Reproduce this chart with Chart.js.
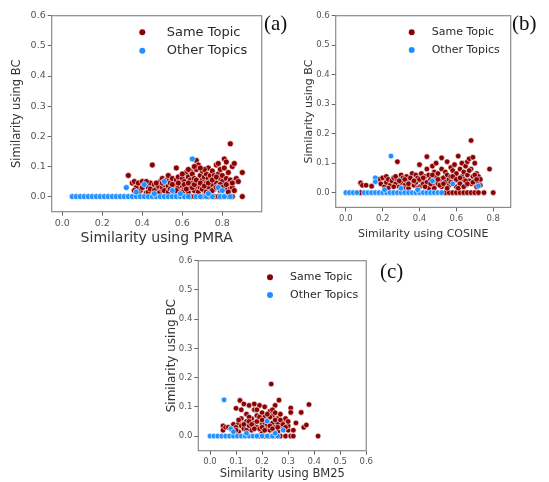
<!DOCTYPE html>
<html>
<head>
<meta charset="utf-8">
<script src="https://cdn.jsdelivr.net/npm/chart.js@4.4.1/dist/chart.umd.min.js"></script>
<style>
  body { margin: 0; background: #fff; width: 549px; height: 482px; position: relative; overflow: hidden; }
  canvas { position: absolute; }
  .tag { position: absolute; font-family: "Liberation Serif", serif; font-size: 21px; color: #111; }
</style>
</head>
<body>
<canvas id="chartA" width="268" height="248" style="left:0;top:0"></canvas>
<canvas id="chartB" width="226" height="245" style="left:290px;top:0"></canvas>
<canvas id="chartC" width="225" height="237" style="left:150px;top:245px"></canvas>
<div class="tag" style="left:264px;top:11px">(a)</div>
<div class="tag" style="left:512px;top:11px">(b)</div>
<div class="tag" style="left:380px;top:259px">(c)</div>
<script>
// series names
const seriesNames = ['Same Topic', 'Other Topics'];

// tick values
const yTicks = [0.0, 0.1, 0.2, 0.3, 0.4, 0.5, 0.6];
const xTicksA = [0.0, 0.2, 0.4, 0.6, 0.8];
const xTicksB = [0.0, 0.2, 0.4, 0.6, 0.8];
const xTicksC = [0.0, 0.1, 0.2, 0.3, 0.4, 0.5, 0.6];

// (a) PMRA vs BC
const aSame = [
  [0.64,0], [0.66,0], [0.70,0], [0.73,0], [0.76,0], [0.78,0], [0.80,0], [0.83,0], [0.85,0], [0.90,0],
  [0.33,0.07], [0.35,0.045], [0.36,0.05], [0.37,0.03], [0.38,0.045], [0.39,0.02], [0.40,0.05], [0.41,0.035],
  [0.42,0.012], [0.43,0.03], [0.44,0.045], [0.45,0.105], [0.45,0.02], [0.46,0.04], [0.47,0.025], [0.48,0.035],
  [0.49,0.05], [0.49,0.015], [0.50,0.06], [0.50,0.03], [0.51,0.04], [0.52,0.02], [0.52,0.055], [0.53,0.07],
  [0.53,0.035], [0.54,0.045], [0.55,0.025], [0.55,0.06], [0.56,0.01], [0.56,0.04], [0.57,0.095], [0.57,0.055],
  [0.58,0.03], [0.58,0.065], [0.59,0.045], [0.59,0.015], [0.60,0.06], [0.60,0.035], [0.61,0.025], [0.61,0.05],
  [0.62,0.08], [0.62,0.04], [0.63,0.065], [0.63,0.015], [0.64,0.085], [0.64,0.03], [0.64,0.055], [0.65,0.045],
  [0.65,0.075], [0.66,0.02], [0.66,0.06], [0.67,0.12], [0.67,0.035], [0.67,0.09], [0.68,0.105], [0.68,0.05],
  [0.68,0.015], [0.69,0.07], [0.69,0.03], [0.70,0.055], [0.70,0.085], [0.70,0.04], [0.71,0.065], [0.71,0.02],
  [0.72,0.045], [0.72,0.075], [0.73,0.095], [0.73,0.03], [0.73,0.06], [0.74,0.07], [0.74,0.015], [0.74,0.05],
  [0.75,0.04], [0.75,0.085], [0.76,0.06], [0.76,0.025], [0.76,0.07], [0.77,0.045], [0.77,0.105], [0.78,0.11],
  [0.78,0.035], [0.78,0.075], [0.79,0.06], [0.79,0.02], [0.79,0.09], [0.80,0.05], [0.80,0.07], [0.81,0.125],
  [0.81,0.035], [0.81,0.095], [0.82,0.115], [0.82,0.06], [0.82,0.025], [0.83,0.08], [0.83,0.045], [0.84,0.175],
  [0.84,0.055], [0.84,0.025], [0.85,0.10], [0.85,0.03], [0.86,0.11], [0.86,0.05], [0.87,0.06], [0.88,0.05],
  [0.90,0.08], [0.66,0.10], [0.71,0.09], [0.60,0.075],
  [0.36,0.02], [0.38,0.01], [0.40,0.03], [0.42,0.05], [0.43,0.015], [0.44,0.025], [0.46,0.02], [0.47,0.045],
  [0.48,0.01], [0.50,0.045], [0.51,0.02], [0.53,0.015], [0.54,0.025], [0.55,0.04], [0.57,0.02], [0.58,0.045],
  [0.60,0.015], [0.61,0.04], [0.62,0.025], [0.63,0.045], [0.65,0.03], [0.66,0.04], [0.67,0.055], [0.69,0.045],
  [0.70,0.025], [0.71,0.035], [0.72,0.015], [0.73,0.045], [0.75,0.02], [0.75,0.055], [0.77,0.03], [0.77,0.065],
  [0.79,0.04], [0.80,0.03], [0.82,0.04], [0.83,0.015], [0.85,0.045], [0.86,0.02], [0.63,0.09], [0.69,0.095]
];
const aOther = [
  [0.05,0], [0.07,0], [0.09,0], [0.11,0], [0.13,0], [0.15,0], [0.17,0], [0.19,0], [0.21,0], [0.23,0],
  [0.25,0], [0.27,0], [0.29,0], [0.31,0], [0.33,0], [0.35,0], [0.37,0], [0.39,0], [0.41,0], [0.43,0],
  [0.45,0], [0.47,0], [0.49,0], [0.51,0], [0.53,0], [0.55,0], [0.57,0], [0.59,0], [0.61,0], [0.63,0],
  [0.67,0], [0.69,0], [0.72,0], [0.75,0], [0.79,0], [0.81,0], [0.84,0],
  [0.32,0.03], [0.37,0.015], [0.41,0.04], [0.51,0.05], [0.65,0.125], [0.55,0.02], [0.73,0.01],
  [0.78,0.03], [0.80,0.02], [0.46,0.01], [0.59,0.01]
];

// (b) COSINE vs BC
const bSame = [
  [0.08,0], [0.54,0], [0.56,0], [0.58,0], [0.60,0], [0.62,0], [0.64,0], [0.66,0], [0.68,0], [0.70,0],
  [0.72,0], [0.75,0], [0.80,0],
  [0.08,0.033], [0.09,0.025], [0.11,0.025], [0.14,0.022], [0.17,0.04], [0.18,0.045], [0.19,0.03], [0.20,0.05],
  [0.21,0.02], [0.22,0.055], [0.22,0.035], [0.23,0.045], [0.24,0.025], [0.25,0.04], [0.26,0.05], [0.27,0.03],
  [0.28,0.105], [0.28,0.045], [0.29,0.02], [0.30,0.06], [0.30,0.035], [0.31,0.05], [0.32,0.025], [0.33,0.055],
  [0.33,0.04], [0.34,0.015], [0.35,0.035], [0.36,0.065], [0.36,0.045], [0.37,0.025], [0.38,0.06], [0.38,0.035],
  [0.39,0.05], [0.40,0.095], [0.40,0.02], [0.41,0.065], [0.41,0.04], [0.42,0.03], [0.43,0.055], [0.44,0.122],
  [0.44,0.08], [0.44,0.035], [0.45,0.06], [0.45,0.015], [0.46,0.045], [0.47,0.09], [0.47,0.025], [0.48,0.07],
  [0.48,0.04], [0.49,0.055], [0.49,0.10], [0.50,0.03], [0.50,0.065], [0.51,0.045], [0.52,0.118], [0.52,0.08],
  [0.52,0.02], [0.53,0.05], [0.54,0.035], [0.54,0.07], [0.55,0.06], [0.55,0.105], [0.56,0.025], [0.56,0.045],
  [0.57,0.085], [0.57,0.055], [0.58,0.035], [0.58,0.075], [0.59,0.095], [0.59,0.05], [0.60,0.02], [0.60,0.065],
  [0.61,0.124], [0.61,0.04], [0.62,0.08], [0.62,0.03], [0.63,0.055], [0.63,0.10], [0.64,0.045], [0.64,0.07],
  [0.65,0.09], [0.65,0.025], [0.66,0.06], [0.66,0.105], [0.67,0.04], [0.67,0.115], [0.68,0.177], [0.68,0.08],
  [0.68,0.03], [0.69,0.12], [0.69,0.055], [0.70,0.10], [0.70,0.04], [0.71,0.065], [0.71,0.02], [0.72,0.055],
  [0.72,0.035], [0.73,0.045], [0.73,0.025], [0.78,0.08],
  [0.23,0.015], [0.26,0.02], [0.27,0.055], [0.29,0.04], [0.31,0.015], [0.32,0.045], [0.34,0.03], [0.35,0.05],
  [0.37,0.04], [0.39,0.015], [0.40,0.045], [0.42,0.05], [0.43,0.02], [0.46,0.03], [0.47,0.06], [0.48,0.015],
  [0.50,0.045], [0.51,0.025], [0.53,0.03], [0.55,0.015], [0.57,0.035], [0.58,0.055], [0.60,0.045], [0.61,0.015],
  [0.62,0.05], [0.64,0.02], [0.65,0.04], [0.66,0.03], [0.67,0.075], [0.69,0.035], [0.70,0.06], [0.71,0.045]
];
const bOther = [
  [0.00,0], [0.02,0], [0.04,0], [0.06,0], [0.10,0], [0.12,0], [0.14,0], [0.16,0], [0.18,0], [0.20,0],
  [0.22,0], [0.24,0], [0.26,0], [0.28,0], [0.30,0], [0.32,0], [0.34,0], [0.36,0], [0.38,0], [0.40,0],
  [0.42,0], [0.44,0], [0.46,0], [0.48,0], [0.50,0], [0.52,0],
  [0.16,0.05], [0.16,0.037], [0.245,0.124], [0.47,0.04], [0.72,0.023], [0.30,0.015], [0.39,0.01],
  [0.58,0.03], [0.21,0.01]
];

// (c) BM25 vs BC
const cSame = [
  [0.19,0], [0.21,0], [0.23,0], [0.25,0], [0.27,0], [0.29,0], [0.31,0], [0.32,0], [0.415,0],
  [0.05,0.035], [0.05,0.02], [0.06,0.03], [0.07,0.03], [0.08,0.025], [0.09,0.04], [0.10,0.03], [0.10,0.095],
  [0.11,0.045], [0.11,0.015], [0.115,0.122], [0.12,0.035], [0.12,0.06], [0.13,0.11], [0.13,0.025], [0.14,0.05],
  [0.14,0.075], [0.15,0.035], [0.15,0.105], [0.16,0.06], [0.16,0.02], [0.17,0.045], [0.17,0.09], [0.18,0.07],
  [0.18,0.03], [0.19,0.105], [0.19,0.05], [0.20,0.08], [0.20,0.015], [0.20,0.04], [0.21,0.065], [0.21,0.10],
  [0.22,0.03], [0.22,0.055], [0.23,0.085], [0.23,0.02], [0.235,0.178], [0.24,0.045], [0.24,0.07], [0.25,0.105],
  [0.25,0.03], [0.26,0.06], [0.26,0.015], [0.265,0.123], [0.27,0.075], [0.27,0.04], [0.28,0.05], [0.28,0.025],
  [0.29,0.06], [0.30,0.02], [0.30,0.035], [0.31,0.096], [0.31,0.081], [0.32,0.02], [0.33,0.045], [0.35,0.081],
  [0.36,0.03], [0.37,0.038], [0.38,0.108], [0.12,0.09], [0.17,0.11], [0.21,0.045], [0.24,0.09], [0.26,0.045],
  [0.19,0.025], [0.23,0.065], [0.15,0.065],
  [0.10,0.02], [0.11,0.055], [0.13,0.04], [0.14,0.02], [0.15,0.05], [0.16,0.04], [0.17,0.025], [0.18,0.05],
  [0.18,0.09], [0.19,0.065], [0.20,0.03], [0.20,0.055], [0.21,0.02], [0.22,0.075], [0.22,0.04], [0.23,0.035],
  [0.24,0.025], [0.25,0.055], [0.25,0.08], [0.26,0.03], [0.27,0.055], [0.28,0.04], [0.29,0.03], [0.30,0.05]
];
const cOther = [
  [0.00,0], [0.015,0], [0.03,0], [0.045,0], [0.06,0], [0.075,0], [0.09,0], [0.105,0], [0.12,0], [0.135,0],
  [0.15,0], [0.165,0], [0.18,0], [0.20,0], [0.22,0], [0.24,0], [0.26,0],
  [0.054,0.124], [0.219,0.051], [0.281,0.02], [0.08,0.025], [0.09,0.015], [0.14,0.01], [0.25,0.01]
];

const RED = '#8b0000';
const BLUE = '#1e90ff';

// frame on all four sides + legend inside the plot
const framePlugin = {
  id: 'frame',
  afterDraw(chart, args, o) {
    const { ctx, chartArea: a } = chart;
    ctx.save();
    ctx.strokeStyle = '#8a8a8a';
    ctx.lineWidth = 1.2;
    ctx.strokeRect(a.left, a.top, a.right - a.left, a.bottom - a.top);

    ctx.font = o.fontSize + 'px "DejaVu Sans"';
    ctx.textBaseline = 'middle';
    [RED, BLUE].forEach((c, i) => {
      const y = a.top + o.dy + i * o.gap;
      ctx.beginPath();
      ctx.arc(a.left + o.dx, y, 3, 0, Math.PI * 2);
      ctx.fillStyle = c;
      ctx.fill();
      ctx.fillStyle = '#2a2a2a';
      ctx.fillText(seriesNames[i], a.left + o.tx, y);
    });
    ctx.restore();
  }
};

function makePanel(id, p) {
  const ds = (name, pts, color) => ({
    label: name,
    data: pts.map(([x, y]) => ({ x, y })),
    backgroundColor: color,
    borderColor: '#ffffff',
    borderWidth: 0.6,
    pointRadius: p.r,
    pointHoverRadius: p.r
  });
  new Chart(document.getElementById(id), {
    type: 'scatter',
    data: {
      datasets: [
        ds(seriesNames[1], p.other, BLUE),
        ds(seriesNames[0], p.same, RED)
      ]
    },
    options: {
      responsive: false,
      animation: false,
      layout: { padding: { left: 0, top: p.padTop, right: p.padRight, bottom: 0 } },
      plugins: {
        legend: { display: false },
        tooltip: { enabled: false },
        frame: p.legend
      },
      scales: {
        x: {
          type: 'linear',
          min: p.xMin, max: p.xMax,
          afterBuildTicks: s => { s.ticks = p.xTicks.map(v => ({ value: v })); },
          afterFit: s => { s.height = p.xAxisH; },
          ticks: { callback: v => v.toFixed(1), color: '#555', font: { family: 'DejaVu Sans', size: p.tickSize }, padding: 2, maxRotation: 0 },
          grid: { display: true, drawOnChartArea: false, tickLength: 4, color: '#666' },
          border: { display: false },
          title: { display: true, text: p.xTitle, color: '#333', font: { family: 'DejaVu Sans', size: p.xTitleSize }, padding: { top: 0, bottom: p.xTitlePad } }
        },
        y: {
          type: 'linear',
          min: -0.05, max: 0.6,
          afterBuildTicks: s => { s.ticks = yTicks.map(v => ({ value: v })); },
          afterFit: s => { s.width = p.yAxisW; },
          ticks: { callback: v => v.toFixed(1), color: '#555', font: { family: 'DejaVu Sans', size: p.tickSize }, padding: 2 },
          grid: { display: true, drawOnChartArea: false, tickLength: 4, color: '#666' },
          border: { display: false },
          title: { display: true, text: 'Similarity using BC', color: '#333', font: { family: 'DejaVu Sans', size: p.yTitleSize }, padding: { top: p.yTitlePad, bottom: 0 } }
        }
      }
    },
    plugins: [framePlugin]
  });
}

makePanel('chartA', {
  same: aSame, other: aOther, xTicks: xTicksA, xMin: -0.053, xMax: 0.997,
  padTop: 15.7, padRight: 6.3, yAxisW: 51.7, xAxisH: 36.3, r: 3,
  tickSize: 9.5, xTitle: 'Similarity using PMRA', xTitleSize: 14, xTitlePad: 1.6,
  yTitleSize: 11.5, yTitlePad: 10.5,
  legend: { dx: 90.6, dy: 16.6, gap: 18.4, tx: 115, fontSize: 13 }
});

makePanel('chartB', {
  same: bSame, other: bOther, xTicks: xTicksB, xMin: -0.055, xMax: 0.895,
  padTop: 15.7, padRight: 5.3, yAxisW: 45.7, xAxisH: 37.6, r: 2.8,
  tickSize: 8.5, xTitle: 'Similarity using COSINE', xTitleSize: 11, xTitlePad: 4.4,
  yTitleSize: 11, yTitlePad: 12.7,
  legend: { dx: 76, dy: 16.6, gap: 17.7, tx: 96, fontSize: 11 }
});

makePanel('chartC', {
  same: cSame, other: cOther, xTicks: xTicksC, xMin: -0.045, xMax: 0.6,
  padTop: 15.7, padRight: 5, yAxisW: 48.3, xAxisH: 31.3, r: 2.8,
  tickSize: 8.5, xTitle: 'Similarity using BM25', xTitleSize: 11.5, xTitlePad: 1.5,
  yTitleSize: 12, yTitlePad: 14.5,
  legend: { dx: 71.7, dy: 16.6, gap: 17.7, tx: 91.7, fontSize: 11 }
});
</script>
</body>
</html>
